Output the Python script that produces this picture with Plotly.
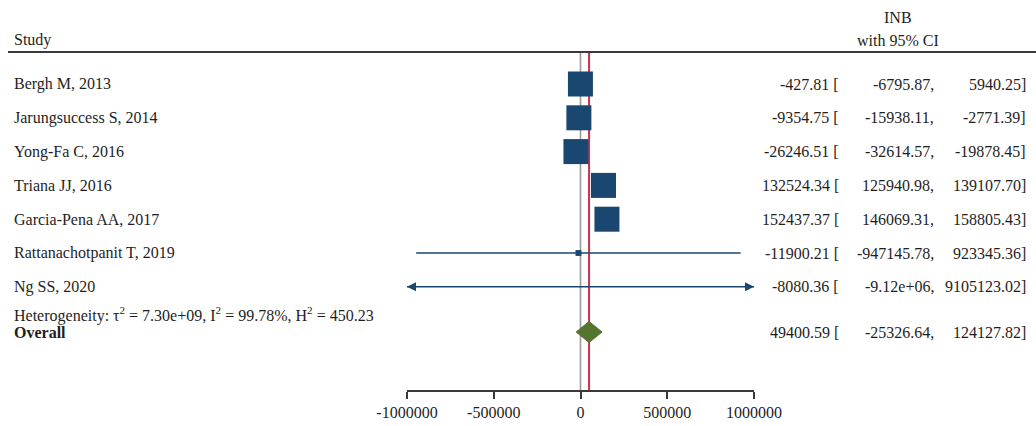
import plotly.graph_objects as go

studies = ["Bergh M, 2013", "Jarungsuccess S, 2014", "Yong-Fa C, 2016", "Triana JJ, 2016",
           "Garcia-Pena AA, 2017", "Rattanachotpanit T, 2019", "Ng SS, 2020"]
inb = [-427.81, -9354.75, -26246.51, 132524.34, 152437.37, -11900.21, -8080.36]
ci_low = [-6795.87, -15938.11, -32614.57, 125940.98, 146069.31, -947145.78, -9.12e6]
ci_high = [5940.25, -2771.39, -19878.45, 139107.70, 158805.43, 923345.36, 9105123.02]
weights = [19.78, 19.78, 19.78, 19.78, 19.78, 1.09, 0.0]

overall_est = 49400.59
overall_low = -25326.64
overall_high = 124127.82
het_text = "Heterogeneity: τ<sup>2</sup> = 7.30e+09, I<sup>2</sup> = 99.78%, H<sup>2</sup> = 450.23"

tick_vals = [-1000000, -500000, 0, 500000, 1000000]
tick_text = ["-1000000", "-500000", "0", "500000", "1000000"]

W, H = 1036, 426
XMIN, XMAX = -1000000, 1000000
NAVY = "#1a476f"
GREEN = "#55752f"
RED = "#c8304f"
FONT = "Liberation Serif"
TXT = "#1e1e1e"

row_y0, row_dy = 84, 33.8
het_y, overall_y = 314, 332


def fmt(v):
    s = f"{v:.2f}"
    if len(s) > 10:
        s = f"{v:.2e}"
    return s


fig = go.Figure()

# CI lines
for i in range(len(studies)):
    y = row_y0 + row_dy * i
    fig.add_trace(go.Scatter(x=[ci_low[i], ci_high[i]], y=[y, y], mode="lines",
                             line=dict(color=NAVY, width=1.6), hoverinfo="skip", showlegend=False))

# arrowheads for truncated CIs
arr_x, arr_y, arr_sym = [], [], []
for i in range(len(studies)):
    y = row_y0 + row_dy * i
    if ci_low[i] < XMIN:
        arr_x.append(XMIN); arr_y.append(y); arr_sym.append("arrow-left")
    if ci_high[i] > XMAX:
        arr_x.append(XMAX); arr_y.append(y); arr_sym.append("arrow-right")
fig.add_trace(go.Scatter(x=arr_x, y=arr_y, mode="markers",
                         marker=dict(symbol=arr_sym, size=9, color=NAVY, opacity=1, line=dict(width=0)),
                         cliponaxis=False, showlegend=False, hoverinfo="skip"))

# squares
wmax = max(weights)
sizes = [25 * (w / wmax) ** 0.5 for w in weights]
ys = [row_y0 + row_dy * i for i in range(len(studies))]
fig.add_trace(go.Scatter(x=inb, y=ys, mode="markers",
                         marker=dict(symbol="square", size=sizes, color=NAVY, opacity=1,
                                     line=dict(width=0)),
                         showlegend=False, cliponaxis=False, hoverinfo="skip"))

# diamond
dh = 10.5
fig.add_trace(go.Scatter(x=[overall_low, overall_est, overall_high, overall_est, overall_low],
                         y=[overall_y, overall_y - dh, overall_y, overall_y + dh, overall_y],
                         mode="lines", fill="toself", fillcolor=GREEN, line=dict(color=GREEN, width=1),
                         showlegend=False, hoverinfo="skip"))

shapes = []
# header line
shapes.append(dict(type="line", xref="paper", yref="y", x0=8 / W, x1=1, y0=52, y1=52,
                   line=dict(color="#3a3a3a", width=2.2)))
# no-effect line
shapes.append(dict(type="line", xref="x", yref="y", x0=0, x1=0, y0=53, y1=390, layer="below",
                   line=dict(color="#999999", width=1.6)))
# overall line
shapes.append(dict(type="line", xref="x", yref="y", x0=overall_est, x1=overall_est, y0=53, y1=390,
                   layer="below", line=dict(color=RED, width=2)))

ann = []


def txt(x, y, s, anchor="left", size=16):
    ann.append(dict(x=x / W, y=y, xref="paper", yref="y", text=s, showarrow=False,
                    xanchor=anchor, yanchor="middle", font=dict(family=FONT, size=size, color=TXT)))


txt(12, 40, "Study")
txt(898, 17, "INB", "center")
txt(898, 40, "with 95% CI", "center")

for i, s in enumerate(studies):
    y = row_y0 + row_dy * i
    txt(12, y, s)
    txt(841, y, fmt(inb[i]) + " [", "right")
    txt(936, y, fmt(ci_low[i]) + ",", "right")
    txt(1028, y, fmt(ci_high[i]) + "]", "right")

txt(12, het_y, het_text)
txt(12, overall_y, "<b>Overall</b>")
txt(841, overall_y, fmt(overall_est) + " [", "right")
txt(936, overall_y, fmt(overall_low) + ",", "right")
txt(1028, overall_y, fmt(overall_high) + "]", "right")

fig.update_layout(
    width=W, height=H, margin=dict(l=0, r=0, t=0, b=0, pad=0, autoexpand=False),
    autosize=False,
    paper_bgcolor="white", plot_bgcolor="white",
    shapes=shapes, annotations=ann,
    xaxis=dict(domain=[407 / W, 754 / W], range=[XMIN, XMAX], tickvals=tick_vals, ticktext=tick_text,
               automargin=False,
               showgrid=False, zeroline=False, showline=True, linecolor="#3a3a3a", linewidth=1.5,
               ticks="outside", ticklen=7, tickwidth=1.5, tickcolor="#3a3a3a",
               tickfont=dict(family=FONT, size=16, color=TXT)),
    yaxis=dict(domain=[(H - 390) / H, 1], range=[390, 0], visible=False, automargin=False),
)

fig.write_html("out.html", config={"responsive": False})
